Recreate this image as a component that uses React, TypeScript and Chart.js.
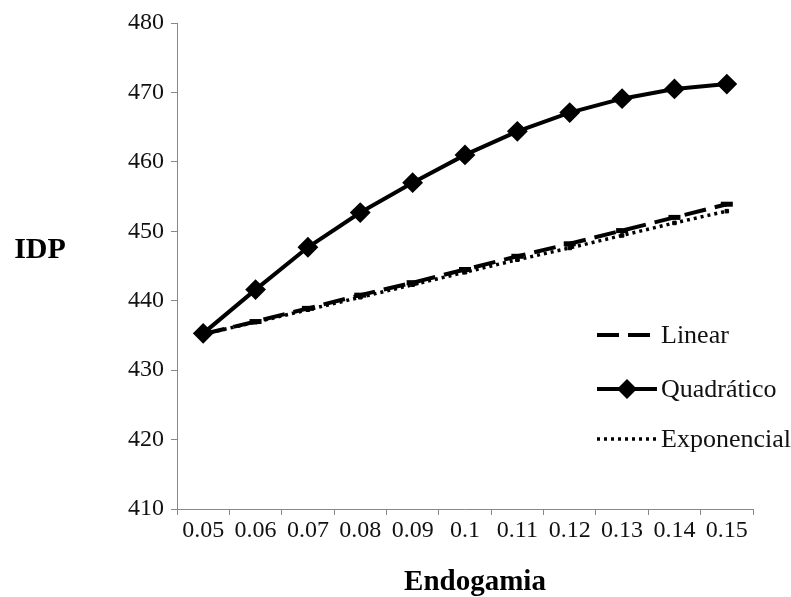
import { useEffect, useRef } from "react";
import { Chart, registerables } from "chart.js";

Chart.register(...registerables);

const categories = ["0.05", "0.06", "0.07", "0.08", "0.09", "0.1", "0.11", "0.12", "0.13", "0.14", "0.15"];
const linearValues = [435.2, 437.0, 438.9, 440.8, 442.6, 444.5, 446.4, 448.2, 450.1, 452.0, 453.9];
const quadraticValues = [435.3, 441.6, 447.7, 452.7, 457.0, 461.0, 464.4, 467.1, 469.1, 470.5, 471.2];
const exponentialValues = [435.2, 436.9, 438.7, 440.5, 442.3, 444.1, 445.9, 447.6, 449.4, 451.2, 452.9];
const seriesNames = ["Linear", "Quadrático", "Exponencial"];
const yMin = 410;
const yMax = 480;
const yStep = 10;
const xTitle = "Endogamia";
const yTitle = "IDP";

const SERIF = "'Liberation Serif', 'Times New Roman', serif";

const overlayPlugin = {
  id: "overlay",
  afterDraw(chart: any) {
    const ctx = chart.ctx as CanvasRenderingContext2D;
    ctx.save();
    ctx.fillStyle = "#000";
    ctx.font = `bold 30px ${SERIF}`;
    ctx.textAlign = "center";
    ctx.textBaseline = "middle";
    ctx.fillText(yTitle, 40, 250);
    ctx.font = `bold 29px ${SERIF}`;
    ctx.fillText(xTitle, 475, 583);

    // legend
    const items = chart.data.datasets;
    const ys = [335, 389, 439];
    const x0 = 597;
    const x1 = 657;
    items.forEach((ds: any, i: number) => {
      const y = ys[i];
      ctx.save();
      ctx.strokeStyle = ds.borderColor;
      ctx.lineWidth = ds.borderWidth;
      ctx.lineCap = ds.borderCapStyle || "butt";
      ctx.setLineDash(ds.borderDash || []);
      ctx.beginPath();
      ctx.moveTo(x0, y);
      ctx.lineTo(x1, y);
      ctx.stroke();
      ctx.restore();
      if (ds.pointRadius > 0 && ds.pointStyle === "rectRot") {
        ctx.save();
        ctx.fillStyle = ds.pointBackgroundColor;
        const r = ds.pointRadius + 1;
        const cx = (x0 + x1) / 2;
        ctx.beginPath();
        ctx.moveTo(cx - r, y);
        ctx.lineTo(cx, y - r);
        ctx.lineTo(cx + r, y);
        ctx.lineTo(cx, y + r);
        ctx.closePath();
        ctx.fill();
        ctx.restore();
      }
      ctx.fillStyle = "#111";
      ctx.font = `26px ${SERIF}`;
      ctx.textAlign = "left";
      ctx.textBaseline = "middle";
      ctx.fillText(seriesNames[i], 661, y + 1);
    });
    ctx.restore();
  },
};

export default function App() {
  const ref = useRef<HTMLCanvasElement | null>(null);
  useEffect(() => {
    if (!ref.current) return;
    const chart = new Chart(ref.current, {
      type: "line",
      data: {
        labels: categories,
        datasets: [
          {
            label: seriesNames[0],
            data: linearValues,
            borderColor: "#000",
            backgroundColor: "#000",
            borderWidth: 4,
            borderDash: [22, 9],
            pointRadius: 6,
            pointStyle: "line",
            pointBorderColor: "#000",
            pointBorderWidth: 5,
            tension: 0,
          } as any,
          {
            label: seriesNames[1],
            data: quadraticValues,
            borderColor: "#000",
            backgroundColor: "#000",
            pointBackgroundColor: "#000",
            pointBorderColor: "#000",
            borderWidth: 4,
            pointStyle: "rectRot",
            pointRadius: 9,
            pointBorderWidth: 2,
            tension: 0,
          } as any,
          {
            label: seriesNames[2],
            data: exponentialValues,
            borderColor: "#000",
            backgroundColor: "#000",
            borderWidth: 3.5,
            borderDash: [3, 4],
            pointRadius: 2.5,
            pointStyle: "rect",
            pointBackgroundColor: "#000",
            pointBorderColor: "#000",
            pointBorderWidth: 1,
            tension: 0,
          } as any,
        ],
      },
      options: {
        responsive: false,
        animation: false,
        devicePixelRatio: 1,
        layout: { padding: { left: 0, top: 23, right: 38, bottom: 0 } },
        plugins: { legend: { display: false }, title: { display: false }, tooltip: { enabled: false } },
        scales: {
          x: {
            type: "category",
            offset: true,
            grid: { offset: true, drawOnChartArea: false, drawTicks: true, tickLength: 6, color: "#888" },
            border: { color: "#888", width: 1 },
            ticks: { color: "#111", font: { family: SERIF, size: 24 }, padding: 1, maxRotation: 0, autoSkip: false },
            afterFit: (s: any) => { s.height = 88; },
          },
          y: {
            min: yMin,
            max: yMax,
            grid: { drawOnChartArea: false, drawTicks: true, tickLength: 6, color: "#888" },
            border: { color: "#888", width: 1 },
            ticks: { stepSize: yStep, color: "#111", font: { family: SERIF, size: 24 }, padding: 7 },
            afterFit: (s: any) => { s.width = 177; },
          },
        },
      },
      plugins: [overlayPlugin],
    });
    return () => chart.destroy();
  }, []);
  return (
    <div style={{ position: "fixed", left: 0, top: 0, width: 791, height: 597, background: "#fff" }}>
      <canvas ref={ref} width={791} height={597} style={{ display: "block" }} />
    </div>
  );
}
